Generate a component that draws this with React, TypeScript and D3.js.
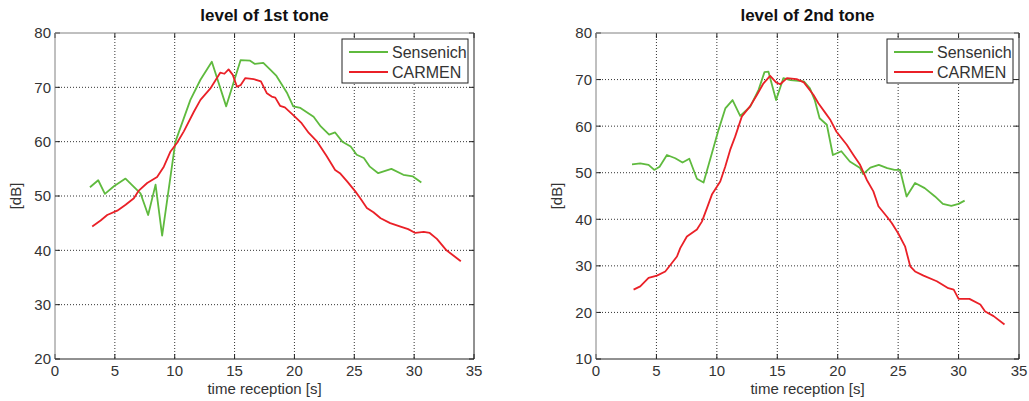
import React from "react";
import * as d3 from "d3";

// ---------- data ----------
const tone1SensT = [2.92,3.61,4.17,4.92,5.89,7.14,7.78,8.4,8.95,10.06,11.31,12.15,13.1,14.3,15.5,16.3,16.7,17.4,18.0,18.5,19.4,19.9,20.5,21.6,22.2,22.9,23.4,24.0,24.7,25.2,25.8,26.3,27.0,28.1,29.1,29.9,30.6];
const tone1SensV = [51.6,52.9,50.4,51.8,53.2,50.5,46.5,52.1,42.7,60.0,67.7,71.4,74.7,66.5,75.0,74.9,74.3,74.5,73.2,72.1,68.9,66.5,66.2,64.6,62.8,61.3,61.7,60.0,59.1,57.6,57.0,55.4,54.2,55.0,53.9,53.6,52.5];
const tone1CarT = [3.11,3.81,4.36,5.2,5.9,6.59,7.0,7.7,8.53,9.09,9.65,10.2,10.76,11.6,12.15,12.98,13.8,14.15,14.5,14.85,15.2,15.5,15.9,16.6,17.2,17.7,18.1,18.4,18.8,19.2,19.9,20.6,21.2,21.9,22.7,23.4,23.8,24.4,25.1,25.5,26.05,26.6,27.2,28.0,28.8,29.5,30.1,30.8,31.3,31.9,32.7,33.3,33.9];
const tone1CarV = [44.4,45.5,46.5,47.3,48.4,49.6,51.0,52.4,53.5,55.4,58.2,59.8,61.9,65.5,67.7,69.8,72.7,72.5,73.3,72.3,70.1,70.4,71.7,71.5,71.1,68.9,68.3,68.1,66.6,66.3,64.9,63.4,61.6,60.0,57.3,54.8,54.2,52.7,50.8,49.6,47.8,47.0,45.9,45.0,44.4,43.9,43.2,43.4,43.2,42.1,40.0,39.0,38.0];

const tone2SensT = [2.98,3.66,4.35,4.82,5.26,5.87,6.56,7.16,7.72,8.35,8.9,9.59,10.14,10.7,11.3,11.93,12.76,13.45,13.94,14.27,14.9,15.5,16.1,17.2,17.7,18.1,18.5,19.1,19.6,20.3,21.0,21.85,22.1,22.7,23.4,24.1,24.7,25.16,25.7,26.4,27.2,28.05,28.7,29.4,30.0,30.5];
const tone2SensV = [51.8,52.0,51.7,50.6,51.3,53.8,53.1,52.2,53.0,48.7,47.9,54.2,59.2,63.8,65.6,62.2,64.2,67.8,71.6,71.7,65.6,70.3,69.9,69.6,68.1,65.6,61.7,60.3,53.8,54.6,52.4,51.0,49.7,51.1,51.7,51.0,50.6,50.6,44.9,47.8,46.7,44.9,43.3,42.9,43.3,44.0];
const tone2CarT = [3.11,3.66,4.35,5.04,5.73,6.28,6.7,6.97,7.52,8.35,8.76,9.18,9.59,10.28,10.69,11.1,11.52,12.07,12.76,13.31,13.86,14.41,14.9,15.24,15.8,16.6,17.2,18.0,18.4,18.96,19.4,19.9,20.75,21.3,21.85,22.4,22.95,23.37,24.06,24.47,25.0,25.57,26.0,26.4,27.1,28.2,29.15,29.6,30.0,30.9,31.8,32.2,32.9,33.8];
const tone2CarV = [24.9,25.6,27.4,27.9,28.8,30.6,32.0,33.8,36.3,37.8,39.5,42.4,45.3,48.1,51.3,54.9,57.8,62.1,64.3,66.7,69.2,70.8,69.4,69.0,70.3,70.1,69.4,66.7,64.9,62.9,61.3,58.8,56.0,53.8,51.7,48.5,46.0,42.8,40.6,39.2,37.0,34.2,29.9,28.8,27.9,26.7,25.2,24.9,22.9,22.9,21.7,20.2,19.2,17.4];

const xTicks = [0, 5, 10, 15, 20, 25, 30, 35];
const yTicks1 = [20, 30, 40, 50, 60, 70, 80];
const yTicks2 = [10, 20, 30, 40, 50, 60, 70, 80];
const seriesNames = ["Sensenich", "CARMEN"];
const titles = ["level of 1st tone", "level of 2nd tone"];
const xLabel = "time reception [s]";
const yLabel = "[dB]";

const GREEN = "#5fba3e";
const RED = "#ea2027";
const FONT = "'Liberation Sans', Arial, sans-serif";

type PanelProps = {
  left: number;
  right: number;
  top: number;
  bottom: number;
  yDomain: [number, number];
  yTicks: number[];
  title: string;
  sens: [number[], number[]];
  car: [number[], number[]];
};

function Panel(p: PanelProps) {
  const x = d3.scaleLinear().domain([0, 35]).range([p.left, p.right]);
  const y = d3.scaleLinear().domain(p.yDomain).range([p.bottom, p.top]);
  const line = d3
    .line<[number, number]>()
    .x((d) => x(d[0]))
    .y((d) => y(d[1]));
  const sensPts = p.sens[0].map((t, i) => [t, p.sens[1][i]] as [number, number]);
  const carPts = p.car[0].map((t, i) => [t, p.car[1][i]] as [number, number]);
  const tl = 5;
  const lgX0 = p.right - 132;
  const lgY0 = p.top + 6;
  return (
    <g>
      <rect x={p.left} y={p.top} width={p.right - p.left} height={p.bottom - p.top} fill="#fff" />
      {/* grid */}
      {xTicks.slice(1, -1).map((t) => (
        <line key={"gx" + t} x1={x(t)} x2={x(t)} y1={p.top} y2={p.bottom} stroke="#333" strokeWidth={1} strokeDasharray="1,2" />
      ))}
      {p.yTicks.slice(1, -1).map((t) => (
        <line key={"gy" + t} x1={p.left} x2={p.right} y1={y(t)} y2={y(t)} stroke="#333" strokeWidth={1} strokeDasharray="1,2" />
      ))}
      {/* ticks */}
      {xTicks.map((t) => (
        <g key={"tx" + t}>
          <line x1={x(t)} x2={x(t)} y1={p.bottom} y2={p.bottom - tl} stroke="#222" />
          <line x1={x(t)} x2={x(t)} y1={p.top} y2={p.top + tl} stroke="#222" />
          <text x={x(t)} y={p.bottom + 17} textAnchor="middle" fontSize={15} fill="#333" fontFamily={FONT}>
            {t}
          </text>
        </g>
      ))}
      {p.yTicks.map((t) => (
        <g key={"ty" + t}>
          <line x1={p.left} x2={p.left + tl} y1={y(t)} y2={y(t)} stroke="#222" />
          <line x1={p.right} x2={p.right - tl} y1={y(t)} y2={y(t)} stroke="#222" />
          <text x={p.left - 4} y={y(t)} dy="0.36em" textAnchor="end" fontSize={15} fill="#333" fontFamily={FONT}>
            {t}
          </text>
        </g>
      ))}
      {/* lines */}
      <path d={line(sensPts) || ""} fill="none" stroke={GREEN} strokeWidth={1.8} strokeLinejoin="round" />
      <path d={line(carPts) || ""} fill="none" stroke={RED} strokeWidth={1.8} strokeLinejoin="round" />
      {/* axes box */}
      <line x1={p.left} x2={p.right} y1={p.top} y2={p.top} stroke="#808080" strokeWidth={1} />
      <line x1={p.left} x2={p.left} y1={p.top} y2={p.bottom} stroke="#808080" strokeWidth={1} />
      <line x1={p.left} x2={p.right} y1={p.bottom} y2={p.bottom} stroke="#222" strokeWidth={1} />
      <line x1={p.right} x2={p.right} y1={p.top} y2={p.bottom} stroke="#222" strokeWidth={1} />
      {/* title */}
      <text x={(p.left + p.right) / 2} y={21} textAnchor="middle" fontSize={17} fontWeight="bold" fill="#111" fontFamily={FONT}>
        {p.title}
      </text>
      <text x={(p.left + p.right) / 2} y={p.bottom + 35} textAnchor="middle" fontSize={15} fill="#333" fontFamily={FONT}>
        {xLabel}
      </text>
      <text
        transform={`translate(${p.left - 34},${(p.top + p.bottom) / 2}) rotate(-90)`}
        textAnchor="middle"
        fontSize={15}
        fill="#333"
        fontFamily={FONT}
      >
        {yLabel}
      </text>
      {/* legend */}
      <rect x={lgX0} y={lgY0} width={126} height={44} fill="#fff" stroke="#222" strokeWidth={1} />
      {seriesNames.map((n, i) => (
        <g key={n}>
          <line x1={lgX0 + 7} x2={lgX0 + 46} y1={lgY0 + 13 + i * 20} y2={lgY0 + 13 + i * 20} stroke={i === 0 ? GREEN : RED} strokeWidth={1.8} />
          <text x={lgX0 + 50} y={lgY0 + 13 + i * 20} dy="0.36em" fontSize={16} fill="#333" fontFamily={FONT}>
            {n}
          </text>
        </g>
      ))}
    </g>
  );
}

export default function App() {
  return (
    <svg width={1029} height={401} style={{ position: "absolute", left: 0, top: 0, background: "#fff" }}>
      <rect width={1029} height={401} fill="#fff" />
      <Panel left={55} right={474} top={33} bottom={359} yDomain={[20, 80]} yTicks={yTicks1} title={titles[0]} sens={[tone1SensT, tone1SensV]} car={[tone1CarT, tone1CarV]} />
      <Panel left={596} right={1019} top={33} bottom={359} yDomain={[10, 80]} yTicks={yTicks2} title={titles[1]} sens={[tone2SensT, tone2SensV]} car={[tone2CarT, tone2CarV]} />
    </svg>
  );
}
